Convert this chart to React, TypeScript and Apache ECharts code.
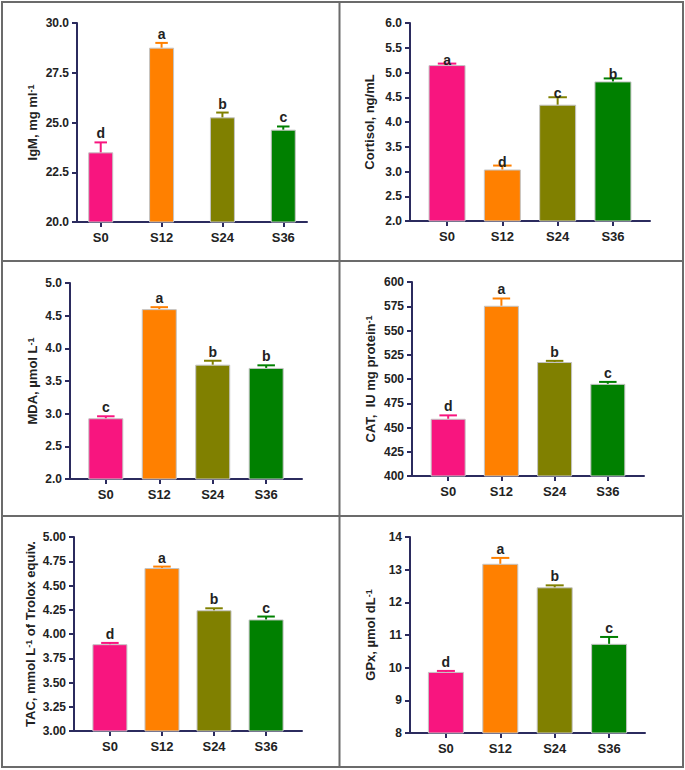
import React, { useEffect, useRef } from "react";
import * as echarts from "echarts";

// Treatment groups shared by every panel
const groups = ["S0", "S12", "S24", "S36"];
const barColors = ["#F8157F", "#FF8000", "#808000", "#008000"];

// IgM (mg ml-1)
const igmMean = [23.5, 28.76, 25.26, 24.64];
const igmSe = [0.5, 0.24, 0.24, 0.16];
const igmLetters = ["d", "a", "b", "c"];

// Cortisol (ng/mL)
const cortisolMean = [5.15, 3.04, 4.35, 4.82];
const cortisolSe = [0.03, 0.08, 0.15, 0.06];
const cortisolLetters = ["a", "d", "c", "b"];

// MDA (µmol L-1)
const mdaMean = [2.93, 4.6, 3.75, 3.7];
const mdaSe = [0.03, 0.03, 0.06, 0.04];
const mdaLetters = ["c", "a", "b", "b"];

// CAT (IU mg protein-1)
const catMean = [459, 575.5, 517.5, 495];
const catSe = [3.5, 7.5, 1.2, 2];
const catLetters = ["d", "a", "b", "c"];

// TAC (mmol L-1 of Trolox equiv.)
const tacMean = [3.895, 4.68, 4.245, 4.15];
const tacSe = [0.013, 0.015, 0.02, 0.03];
const tacLetters = ["d", "a", "b", "c"];

// GPx (µmol dL-1)
const gpxMean = [9.87, 13.18, 12.46, 10.73];
const gpxSe = [0.03, 0.18, 0.06, 0.21];
const gpxLetters = ["d", "a", "b", "c"];

const AXIS = "#2b2b5e";
const TEXT = "#222";
const FONT = "'Liberation Sans', Arial, sans-serif";

type Panel = {
  name: string;
  mean: number[];
  se: number[];
  letters: string[];
  yMin: number;
  yMax: number;
  step: number;
  digits: number;
  grid: { left: number; top: number; width: number; height: number };
  xPad: number;
  barWidth: number;
  nameGap: number;
  letterShift: number;
};

const panels: Panel[] = [
  {
    name: "IgM, mg ml{sup|-1}",
    mean: igmMean, se: igmSe, letters: igmLetters,
    yMin: 20, yMax: 30, step: 2.5, digits: 1,
    grid: { left: 77, top: 23, width: 230, height: 199 },
    xPad: 0.39, barWidth: 25, nameGap: 38, letterShift: -2,
  },
  {
    name: "Cortisol, ng/mL",
    mean: cortisolMean, se: cortisolSe, letters: cortisolLetters,
    yMin: 2, yMax: 6, step: 0.5, digits: 1,
    grid: { left: 410, top: 23, width: 240, height: 198 },
    xPad: 0.67, barWidth: 37, nameGap: 34, letterShift: 3,
  },
  {
    name: "MDA, µmol L{sup|-1}",
    mean: mdaMean, se: mdaSe, letters: mdaLetters,
    yMin: 2, yMax: 5, step: 0.5, digits: 1,
    grid: { left: 70, top: 283, width: 232, height: 196 },
    xPad: 0.67, barWidth: 35, nameGap: 31, letterShift: -2,
  },
  {
    name: "CAT,  IU mg protein{sup|-1}",
    mean: catMean, se: catSe, letters: catLetters,
    yMin: 400, yMax: 600, step: 25, digits: 0,
    grid: { left: 412, top: 282, width: 232, height: 194 },
    xPad: 0.68, barWidth: 35, nameGap: 35, letterShift: -2,
  },
  {
    name: "TAC, mmol L{sup|-1} of Trolox equiv.",
    mean: tacMean, se: tacSe, letters: tacLetters,
    yMin: 3, yMax: 5, step: 0.25, digits: 2,
    grid: { left: 74, top: 537, width: 228, height: 194 },
    xPad: 0.69, barWidth: 35, nameGap: 37, letterShift: -2,
  },
  {
    name: "GPx, µmol dL{sup|-1}",
    mean: gpxMean, se: gpxSe, letters: gpxLetters,
    yMin: 8, yMax: 14, step: 1, digits: 0,
    grid: { left: 410, top: 537, width: 235, height: 196 },
    xPad: 0.66, barWidth: 36, nameGap: 33, letterShift: -2,
  },
];

function buildOption() {
  const grids: any[] = [];
  const xAxes: any[] = [];
  const yAxes: any[] = [];
  const series: any[] = [];

  panels.forEach((p, i) => {
    grids.push({ ...p.grid, containLabel: false });
    xAxes.push({
      type: "value",
      gridIndex: i,
      min: -p.xPad,
      max: groups.length - 1 + p.xPad,
      splitLine: { show: false },
      axisLine: { onZero: false, lineStyle: { color: AXIS, width: 2 } },
      axisTick: {
        show: true,
        customValues: [0, 1, 2, 3],
        length: 5,
        lineStyle: { color: AXIS, width: 2 },
      },
      axisLabel: {
        customValues: [0, 1, 2, 3],
        margin: 9,
        color: TEXT,
        fontFamily: FONT,
        fontWeight: "bold",
        fontSize: 13,
        formatter: (v: number) => groups[Math.round(v)] ?? "",
      },
    });
    yAxes.push({
      type: "value",
      gridIndex: i,
      min: p.yMin,
      max: p.yMax,
      interval: p.step,
      splitLine: { show: false },
      axisLine: { show: true, onZero: false, lineStyle: { color: AXIS, width: 2 } },
      axisTick: { show: true, length: 5, lineStyle: { color: AXIS, width: 2 } },
      axisLabel: {
        margin: 8,
        color: TEXT,
        fontFamily: FONT,
        fontWeight: "bold",
        fontSize: 12,
        formatter: (v: number) => v.toFixed(p.digits),
      },
      name: p.name,
      nameLocation: "middle",
      nameRotate: 90,
      nameGap: p.nameGap,
      nameTextStyle: {
        color: TEXT,
        fontFamily: FONT,
        fontWeight: "bold",
        fontSize: 13,
        rich: {
          sup: {
            fontFamily: FONT,
            fontWeight: "bold",
            fontSize: 9,
            color: TEXT,
            verticalAlign: "top",
          },
        },
      },
    });

    series.push({
      type: "bar",
      xAxisIndex: i,
      yAxisIndex: i,
      barWidth: p.barWidth,
      clip: true,
      data: p.mean.map((m, k) => ({
        value: [k, m],
        itemStyle: { color: barColors[k], borderColor: "#c4c4c4", borderWidth: 1 },
      })),
    });

    // upper error bar with cap, and the significance letter above it
    series.push({
      type: "custom",
      xAxisIndex: i,
      yAxisIndex: i,
      z: 5,
      data: p.mean.map((m, k) => [k, m, m + p.se[k]]),
      renderItem: (params: any, api: any) => {
        const k = api.value(0);
        const base = api.coord([k, api.value(1)]);
        const top = api.coord([k, api.value(2)]);
        const half = p.barWidth * 0.25;
        const color = barColors[params.dataIndex];
        return {
          type: "group",
          children: [
            {
              type: "line",
              shape: { x1: base[0], y1: base[1], x2: top[0], y2: top[1] },
              style: { stroke: color, lineWidth: 2 },
            },
            {
              type: "line",
              shape: { x1: top[0] - half, y1: top[1], x2: top[0] + half, y2: top[1] },
              style: { stroke: color, lineWidth: 2 },
            },
            {
              type: "text",
              x: top[0],
              y: top[1] + p.letterShift,
              style: {
                text: p.letters[params.dataIndex],
                fill: TEXT,
                fontFamily: FONT,
                fontWeight: "bold",
                fontSize: 14,
                align: "center",
                verticalAlign: "bottom",
              },
            },
          ],
        };
      },
    });
  });

  const frame = "#6b6b6b";
  const graphic: any[] = [
    {
      type: "rect",
      shape: { x: 2, y: 2, width: 681, height: 765 },
      style: { fill: "none", stroke: frame, lineWidth: 2 },
    },
    {
      type: "line",
      shape: { x1: 339.5, y1: 2, x2: 339.5, y2: 767 },
      style: { stroke: frame, lineWidth: 2 },
    },
    {
      type: "line",
      shape: { x1: 2, y1: 261, x2: 683, y2: 261 },
      style: { stroke: frame, lineWidth: 2 },
    },
    {
      type: "line",
      shape: { x1: 2, y1: 516, x2: 683, y2: 516 },
      style: { stroke: frame, lineWidth: 2 },
    },
  ];

  return {
    animation: false,
    backgroundColor: "#ffffff",
    grid: grids,
    xAxis: xAxes,
    yAxis: yAxes,
    series,
    graphic,
  };
}

export default function App() {
  const ref = useRef<HTMLDivElement>(null);

  useEffect(() => {
    document.body.style.margin = "0";
    if (!ref.current) return;
    const chart = echarts.init(ref.current, undefined, { renderer: "svg" });
    chart.setOption(buildOption() as any);
    return () => chart.dispose();
  }, []);

  return <div ref={ref} style={{ width: 685, height: 770 }} />;
}
